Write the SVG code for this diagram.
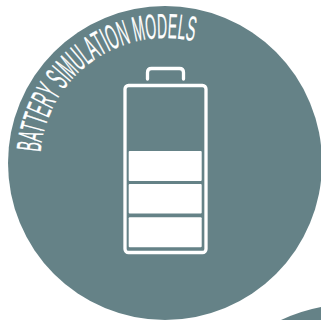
<svg xmlns="http://www.w3.org/2000/svg" width="321" height="320" viewBox="0 0 321 320">
<style>
.teal{fill:#658287}
.line{fill:none;stroke:#fff;stroke-width:3.3;stroke-linecap:round}
.cell{fill:#fff}
.title{font-family:"Liberation Sans Narrow","Liberation Sans",sans-serif;font-size:35px;fill:#fff;stroke:#fff;stroke-width:.25}
</style>
<defs><path id="arc" d="M40.5 152.1A125 125 0 0 1 194.2 41.5"/></defs>
<rect width="321" height="320" fill="#fff"/>
<circle class="teal" cx="165" cy="163" r="157"/>
<path class="teal" d="M281 320Q300 311 321 307V320Z"/>
<g id="title"><text class="title"><textPath href="#arc" textLength="214" lengthAdjust="spacingAndGlyphs">BATTERY SIMULATION MODELS</textPath></text></g>
<g id="battery">
<path class="line" d="M147.5 79V72.5Q147.5 68.5 151.5 68.5H179.5Q183.5 68.5 183.5 72.5V79"/>
<rect class="line" x="125" y="85.5" width="81" height="167" rx="3.5"/>
<rect class="cell" x="128.7" y="151" width="73" height="30" rx="1"/>
<rect class="cell" x="128.7" y="184" width="73" height="29.5" rx="1"/>
<rect class="cell" x="128.7" y="217.3" width="73" height="30" rx="1"/>
</g>
</svg>
